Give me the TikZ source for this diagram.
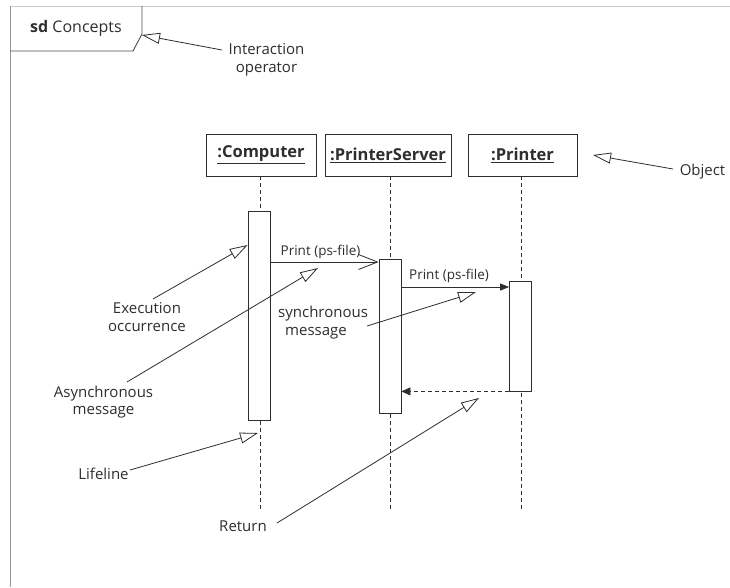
\documentclass[tikz,border=0pt]{standalone}
\usepackage{fontspec}
\setmainfont{Open Sans}
\usetikzlibrary{arrows.meta}
\definecolor{ink}{HTML}{2E2E2E}
\tikzset{
  objbox/.style={draw=ink, line width=0.8pt, minimum width=110pt, minimum height=42pt, inner sep=0pt, font=\fontsize{16.5}{18}\selectfont\bfseries, text=ink},
  actbar/.style={draw=ink, line width=0.8pt, fill=white, minimum width=22pt, inner sep=0pt},
  lifeline/.style={draw=ink, line width=0.8pt, dash pattern=on 4pt off 3pt},
  note/.style={font=\fontsize{15}{17.5}\selectfont, text=ink, align=center, inner sep=0pt},
  msglabel/.style={font=\fontsize{13.5}{15}\selectfont, text=ink, inner sep=0pt},
  pointer/.style={draw=ink, line width=0.8pt, -{Triangle[open, length=18pt, width=11pt, line width=0.8pt]}},
  asyncmsg/.style={draw=ink, line width=0.8pt, -{Straight Barb[length=19pt, width=15pt, line width=0.8pt]}},
  syncmsg/.style={draw=ink, line width=0.8pt, -{Triangle[length=9pt, width=7pt]}},
  returnmsg/.style={draw=ink, line width=0.8pt, dash pattern=on 4pt off 3pt, -{Triangle[length=9pt, width=8pt]}}
}
\begin{document}
\begin{tikzpicture}[x=1pt, y=-1pt]
  \useasboundingbox[fill=white] (0,0) rectangle (730,587);

  % diagram frame and its name tag
  \draw[line width=0.8pt, color=black!20] (10,6) -- (730,6);
  \draw[line width=0.9pt, color=black!40] (10,6) -- (10,587);
  \draw[line width=0.9pt, color=ink!85] (10,51) -- (133,51) -- (142,34) -- (142,6);
  \node[font=\fontsize{16}{18}\selectfont, text=ink, anchor=base west, inner sep=0pt] (title) at (30,32) {\textbf{sd} Concepts};

  % objects
  \node[objbox] (comp) at (261,155) {\underline{:Computer}};
  \node[objbox, minimum width=126pt] (pserv) at (388,155) {\underline{:PrinterServer}};
  \node[objbox, minimum width=109pt] (prn) at (522.5,155) {\underline{:Printer}};

  % lifelines
  \coordinate (compend) at (260,510);
  \coordinate (pservend) at (390,510);
  \coordinate (prnend) at (521,510);
  \draw[lifeline] (comp.south -| compend) -- (compend);
  \draw[lifeline] (pserv.south -| pservend) -- (pservend);
  \draw[lifeline] (prn.south -| prnend) -- (prnend);

  % execution occurrences
  \node[actbar, minimum height=209pt] (cbar) at (259,315.5) {};
  \node[actbar, minimum height=154pt] (sbar) at (390,336) {};
  \node[actbar, minimum height=110pt] (pbar) at (520.5,336) {};

  % messages
  \draw[asyncmsg] (cbar.east |- 0,262) -- (sbar.west |- 0,262);
  \node[msglabel, anchor=base] (m1) at (320.5,255) {Print (ps-file)};
  \draw[syncmsg] (sbar.east |- 0,287) -- (pbar.west |- 0,287);
  \node[msglabel, anchor=base] (m2) at (449,279) {Print (ps-file)};
  \draw[returnmsg] (pbar.south west) -- (sbar.east |- pbar.south);

  % annotations
  \node[note] (nop) at (266.5,60) {Interaction\\operator};
  \coordinate (tagtip) at (142,35);
  \draw[pointer] (222,50) -- (tagtip);

  \node[note] (nobj) at (702.5,172) {Object};
  \coordinate (objtip) at (593,155);
  \draw[pointer] (673,169) -- (objtip);

  \node[note] (nexec) at (147,317) {Execution\\occurrence};
  \coordinate (exectip) at (cbar.west |- 0,245);
  \draw[pointer] (153,299) -- (exectip);

  \node[note] (nasync) at (103.5,402) {Asynchronous\\message};
  \coordinate (asynctip) at (318,268);
  \draw[pointer] (127,382) -- (asynctip);

  \node[note, align=left, anchor=west, font=\fontsize{15}{18}\selectfont] (nsync) at (278,323) {synchronous\\\hspace*{7pt}message};
  \coordinate (synctip) at (476,292);
  \draw[pointer] (367,326) -- (synctip);

  \node[note] (nlife) at (103.5,474) {Lifeline};
  \coordinate (lifetip) at (258,433);
  \draw[pointer] (130,470) -- (lifetip);

  \node[note] (nret) at (243,526) {Return};
  \coordinate (rettip) at (479,398);
  \draw[pointer] (277,523) -- (rettip);
\end{tikzpicture}
\end{document}
